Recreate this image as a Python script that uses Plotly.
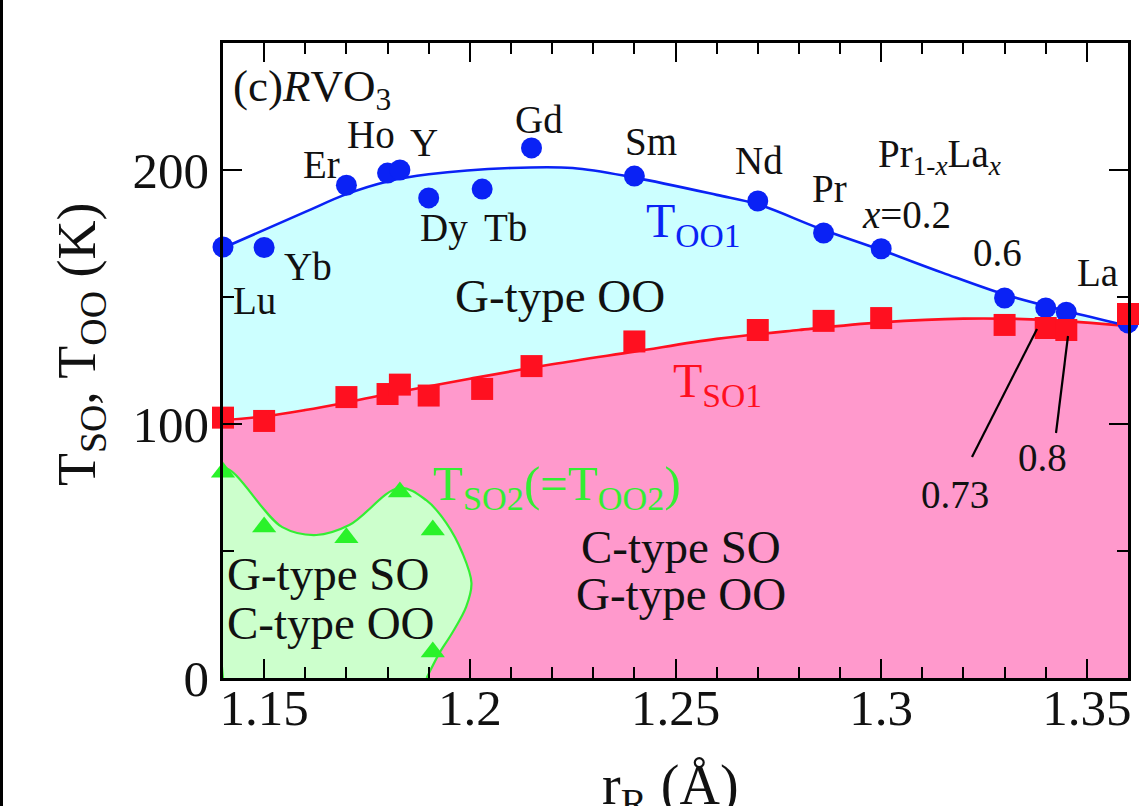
import plotly.graph_objects as go

# ---------------- data ----------------
SAMPLES = ["Lu", "Yb", "Er", "Ho", "Y", "Dy", "Tb", "Gd", "Sm", "Nd", "Pr",
           "x=0.2", "0.6", "0.73", "0.8", "La"]
R_R = [1.140, 1.150, 1.170, 1.180, 1.183, 1.190, 1.203, 1.215, 1.240, 1.270,
       1.286, 1.300, 1.330, 1.340, 1.345, 1.360]
T_OO1 = [169.7, 169.5, 194.0, 198.8, 200.0, 189.0, 192.5, 208.7, 197.6, 187.8,
         175.2, 169.0, 149.6, 145.7, 144.0, 139.8]
T_SO1 = [102.5, 101.2, 110.6, 111.8, 115.5, 111.2, 113.8, 122.8, 132.5, 137.0,
         140.6, 141.7, 139.0, 137.8, 137.0, 143.3]

SO2_R = [1.140, 1.150, 1.170, 1.183, 1.191, 1.191]
T_SO2 = [81.0, 59.4, 55.2, 73.2, 58.3, 10.2]

# guide-to-the-eye boundary curves
OO1_CURVE_R = [1.140, 1.160, 1.170, 1.180, 1.190, 1.210, 1.225, 1.240, 1.260,
               1.270, 1.285, 1.300, 1.315, 1.330, 1.345, 1.360]
OO1_CURVE_T = [169.3, 183.5, 190.5, 195.5, 198.3, 200.8, 200.8, 197.0, 190.2,
               186.5, 177.0, 168.5, 159.5, 151.0, 144.5, 138.6]
SO1_CURVE_R = [1.140, 1.150, 1.160, 1.170, 1.180, 1.200, 1.220, 1.240, 1.260,
               1.280, 1.300, 1.320, 1.340, 1.360]
SO1_CURVE_T = [101.5, 103.0, 105.5, 108.5, 111.8, 117.8, 123.5, 128.5, 133.5,
               137.0, 140.0, 141.5, 141.0, 138.6]
SO2_CURVE_R = [1.140, 1.140, 1.1544, 1.1627, 1.1707, 1.1828, 1.1894, 1.1943,
               1.1982, 1.2004, 1.1991, 1.1957, 1.1926, 1.1901, 1.1895]
SO2_CURVE_T = [0.0, 82.5, 59.4, 56.3, 60.2, 74.8, 70.0, 61.0, 49.2, 37.4,
               28.0, 17.7, 9.8, 2.0, 0.0]

X_TICKS = [1.15, 1.20, 1.25, 1.30, 1.35]
X_TICK_LABELS = ["1.15", "1.2", "1.25", "1.3", "1.35"]
Y_TICKS = [0, 100, 200]
Y_TICK_LABELS = ["0", "100", "200"]

# ---------------- styling / layout helpers ----------------
FONT = "Liberation Serif"
BLUE = "#0a22f5"
RED = "#ff1020"
GREEN = "#33ee33"
GREEN_MK = "#2af22a"
CYAN_FILL = "#ccffff"
PINK_FILL = "#ff99cc"
GREEN_FILL = "#ccffcc"

W, H = 1143, 806
ML, MR, MT, MB = 223, 15, 43, 128
PW, PH = W - ML - MR, H - MT - MB


def px(x):
    return (x - ML) / PW


def py(y):
    return (H - MB - y) / PH


fig = go.Figure()

# pink region below T_SO1
fig.add_trace(go.Scatter(x=SO1_CURVE_R, y=SO1_CURVE_T, mode="lines",
                         line=dict(color=RED, width=2.6, shape="spline"),
                         fill="tozeroy", fillcolor=PINK_FILL,
                         hoverinfo="skip", showlegend=False))
# cyan region between T_SO1 and T_OO1
fig.add_trace(go.Scatter(x=OO1_CURVE_R, y=OO1_CURVE_T, mode="lines",
                         line=dict(color=BLUE, width=2.6, shape="spline"),
                         fill="tonexty", fillcolor=CYAN_FILL,
                         hoverinfo="skip", showlegend=False))
# green region below T_SO2
fig.add_trace(go.Scatter(x=SO2_CURVE_R, y=SO2_CURVE_T, mode="lines",
                         line=dict(color=GREEN, width=2.2, shape="spline"),
                         fill="toself", fillcolor=GREEN_FILL,
                         hoverinfo="skip", showlegend=False))

fig.add_trace(go.Scatter(x=R_R, y=T_OO1, mode="markers", name="T_OO1",
                         marker=dict(symbol="circle", size=21, color=BLUE),
                         showlegend=False, cliponaxis=False))
fig.add_trace(go.Scatter(x=R_R, y=T_SO1, mode="markers", name="T_SO1",
                         marker=dict(symbol="square", size=22, color=RED),
                         showlegend=False, cliponaxis=False))
fig.add_trace(go.Scatter(x=SO2_R, y=T_SO2, mode="markers", name="T_SO2",
                         marker=dict(symbol="triangle-up", size=21, color=GREEN_MK),
                         showlegend=False, cliponaxis=False))

axis_common = dict(showline=True, linecolor="black", linewidth=2.6,
                   mirror="ticks", ticks="inside", ticklen=19, tickwidth=2.4,
                   tickcolor="black", showgrid=False, zeroline=False,
                   tickfont=dict(family=FONT, size=51, color="#111111"))

fig.update_xaxes(range=[1.14, 1.36], tickmode="array", tickvals=X_TICKS,
                 ticktext=X_TICK_LABELS,
                 minor=dict(tick0=1.14, dtick=0.01, ticks="inside", ticklen=11,
                            tickwidth=2.2, tickcolor="black"),
                 ticklabelstandoff=-17, **axis_common)
fig.update_yaxes(range=[0, 250], tickmode="array", tickvals=Y_TICKS,
                 ticktext=Y_TICK_LABELS,
                 minor=dict(tick0=0, dtick=50, ticks="inside", ticklen=11,
                            tickwidth=2.2, tickcolor="black"),
                 ticklabelstandoff=1, **axis_common)

annotations = []


def label(text, x, y, size=39, color="#111111", xanchor="center", yanchor="middle",
          angle=0):
    annotations.append(dict(text=text, x=px(x), y=py(y), xref="paper", yref="paper",
                            xanchor=xanchor, yanchor=yanchor, showarrow=False,
                            textangle=angle,
                            font=dict(family=FONT, size=size, color=color)))


SAMPLE_LABELS = ["Lu", "Yb", "Er", "Ho", "Y", "Dy", "Tb", "Gd", "Sm", "Nd", "Pr",
                 "Pr<sub>1-<i>x</i></sub>La<sub><i>x</i></sub>", "<i>x</i>=0.2",
                 "0.6", "La", "0.73", "0.8"]
SAMPLE_LABEL_POS = [(254, 300), (308, 266), (321, 164), (371, 134), (424, 142),
                    (444, 228), (505, 227), (539, 120), (651, 141), (759, 160),
                    (829, 189), (939, 156), (906, 214), (997, 253), (1097, 272),
                    (955, 494), (1042, 457)]
for t, (x, y) in zip(SAMPLE_LABELS, SAMPLE_LABEL_POS):
    label(t, x, y)

label("(c)<i>R</i>VO<sub>3</sub>", 231, 89, size=45, xanchor="left")
label("T<sub>OO1</sub>", 644, 224, size=48, color=BLUE, xanchor="left")
label("T<sub>SO1</sub>", 671, 384, size=48, color=RED, xanchor="left")
label("T<sub>SO2</sub>(=T<sub>OO2</sub>)", 431, 486, size=49, color=GREEN, xanchor="left")
label("G-type OO", 560, 296, size=47)
label("C-type SO", 681, 547, size=47)
label("G-type OO", 681, 594, size=47)
label("G-type SO", 225, 574, size=47, xanchor="left")
label("C-type OO", 225, 623, size=47, xanchor="left")

# axis titles
label("r<sub>R</sub> (Å)", 670, 789, size=56)
label("T<sub>SO</sub>, T<sub>OO</sub> (K)", 80, 345, size=54, angle=-90)

# leader lines for the 0.73 and 0.8 labels (pixel positions)
LEADERS = [((1037, 329), (972, 457)), ((1068, 336), (1056, 433))]
shapes = []
for (x0, y0), (x1, y1) in LEADERS:
    shapes.append(dict(type="line", xref="paper", yref="paper",
                       x0=px(x0), y0=py(y0), x1=px(x1), y1=py(y1),
                       line=dict(color="black", width=2.2)))
# frame edge visible at the far left of the reference image
shapes.append(dict(type="line", xref="paper", yref="paper",
                   x0=px(1.5), x1=px(1.5), y0=py(H + 5), y1=py(-5),
                   line=dict(color="black", width=3)))

fig.update_layout(width=W, height=H, margin=dict(l=ML, r=MR, t=MT, b=MB),
                  paper_bgcolor="white", plot_bgcolor="white",
                  showlegend=False, annotations=annotations, shapes=shapes,
                  font=dict(family=FONT, color="#111111"))

fig.write_html("out.html")
